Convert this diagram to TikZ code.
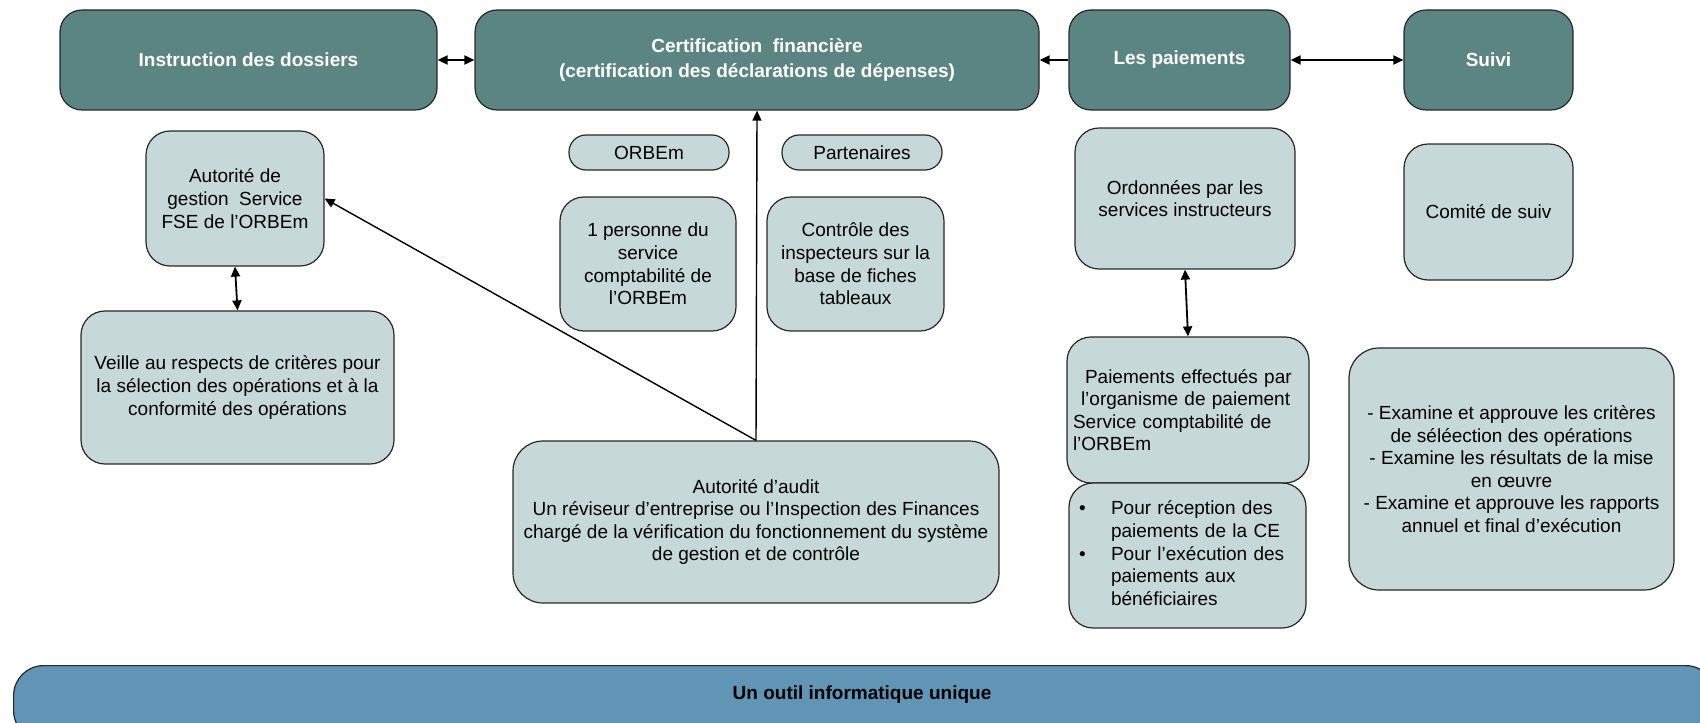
\documentclass[tikz,border=0pt]{standalone}
\usepackage{fontspec}
\setmainfont{Liberation Sans}
\usetikzlibrary{arrows.meta}
\definecolor{headfill}{RGB}{91,133,131}
\definecolor{cellfill}{RGB}{198,217,216}
\definecolor{barfill}{RGB}{96,149,181}
\definecolor{edge}{RGB}{40,40,40}

\begin{document}
\begin{tikzpicture}[x=0.5pt,y=-0.5pt,
  sz/.style 2 args={minimum width=#1*0.5pt,minimum height=#2*0.5pt},
  head/.style={draw=edge,line width=0.6pt,fill=headfill,rounded corners=11pt,
    text=white,font=\fontsize{9.5}{12.5}\selectfont\bfseries,align=center,inner sep=2pt},
  cell/.style={draw=edge,line width=0.6pt,fill=cellfill,rounded corners=12pt,
    font=\fontsize{9.5}{11.3}\selectfont,align=center,inner sep=2pt},
  pill/.style={cell,rounded corners=8.5pt},
  barbox/.style={draw=edge,line width=0.6pt,fill=barfill,rounded corners=15pt,inner sep=0pt},
  link/.style={line width=0.9pt,-{Triangle[length=5pt,width=4.5pt]}},
  twoway/.style={line width=0.9pt,{Triangle[length=5pt,width=4.5pt]}-{Triangle[length=5pt,width=4.5pt]}},
]
\useasboundingbox (0,0) rectangle (1700,722);

% top row: the four stages
\node[head,sz={377}{100}] (ins) at (248.5,60) {Instruction des dossiers};
\node[head,sz={564}{100}] (cert) at (757,60) {Certification\ \ financière\\(certification des déclarations de dépenses)};
\node[head,sz={221}{100}] (pay) at (1179.5,60) {Les paiements};
\node[head,sz={169}{100}] (suivi) at (1488.5,60) {Suivi};

% instruction column
\node[cell,sz={178}{135}] (ag) at (235,198.5) {Autorité de\\gestion\ \ Service\\FSE de l’ORBEm};
\node[cell,sz={313}{153}] (veille) at (237.5,387.5) {Veille au respects de critères pour\\la sélection des opérations et à la\\conformité des opérations};

% certification column
\node[pill,sz={160}{35}] (orbem) at (649,152.5) {ORBEm};
\node[pill,sz={160}{35}] (part) at (862,152.5) {Partenaires};
\node[cell,sz={176}{134}] (pers) at (648,264) {1 personne du\\service\\comptabilité de\\l’ORBEm};
\node[cell,sz={177}{134}] (ctrl) at (855.5,264) {Contrôle des\\inspecteurs sur la\\base de fiches\\tableaux};
\node[cell,sz={486}{162},rounded corners=15pt] (audit) at (756,522) {Autorité d’audit\\Un réviseur d’entreprise ou l’Inspection des Finances\\chargé de la vérification du fonctionnement du système\\de gestion et de contrôle};

% payments column
\node[cell,sz={220}{141}] (ord) at (1185,198.5) {Ordonnées par les\\services instructeurs};
\node[cell,sz={242}{146},align=left,text width=115pt,inner xsep=3pt] (peff) at (1188,410)
  {\hspace*{6pt}Paiements effectués par\\\hspace*{4pt}l’organisme de paiement\\Service comptabilité de\\l’ORBEm};
\node[cell,sz={237}{145},align=left,text width=108.5pt,inner xsep=5pt] (bul) at (1187.5,555.5)
  {\begin{tabular}{@{}p{16pt}@{}l@{}}\textbullet & Pour réception des\\ & paiements de la CE\\ \textbullet & Pour l’exécution des\\ & paiements aux\\ & bénéficiaires\end{tabular}};

% monitoring column
\node[cell,sz={169}{136}] (com) at (1488.5,212) {Comité de suiv};
\node[cell,sz={325}{242},rounded corners=15pt] (exa) at (1511.5,469)
  {- Examine et approuve les critères\\de séléection des opérations\\- Examine les résultats de la mise\\en œuvre\\- Examine et approuve les rapports\\annuel et final d’exécution};

% shared tool band along the bottom
\begin{scope}
  \clip (0,0) rectangle (1700,722);
  \node[barbox,sz={1702}{75},anchor=north west] (bar) at (13,665) {};
\end{scope}
\node[font=\fontsize{9.5}{11.3}\selectfont\bfseries] (tool) at (862,695) {Un outil informatique unique};

% connectors
\draw[twoway] (ins.east) -- (cert.west);
\draw[link] (pay.west) -- (cert.east);
\draw[twoway] (pay.east) -- (suivi.west);
\draw[twoway] (ag.south) -- (veille.north);
\draw[twoway] (ord.south) -- (peff.north);
\draw[link,line width=0.7pt] (audit.north) -- (cert.south);
\draw[link,line width=0.7pt] (audit.north) -- (ag.east);
\end{tikzpicture}
\end{document}
